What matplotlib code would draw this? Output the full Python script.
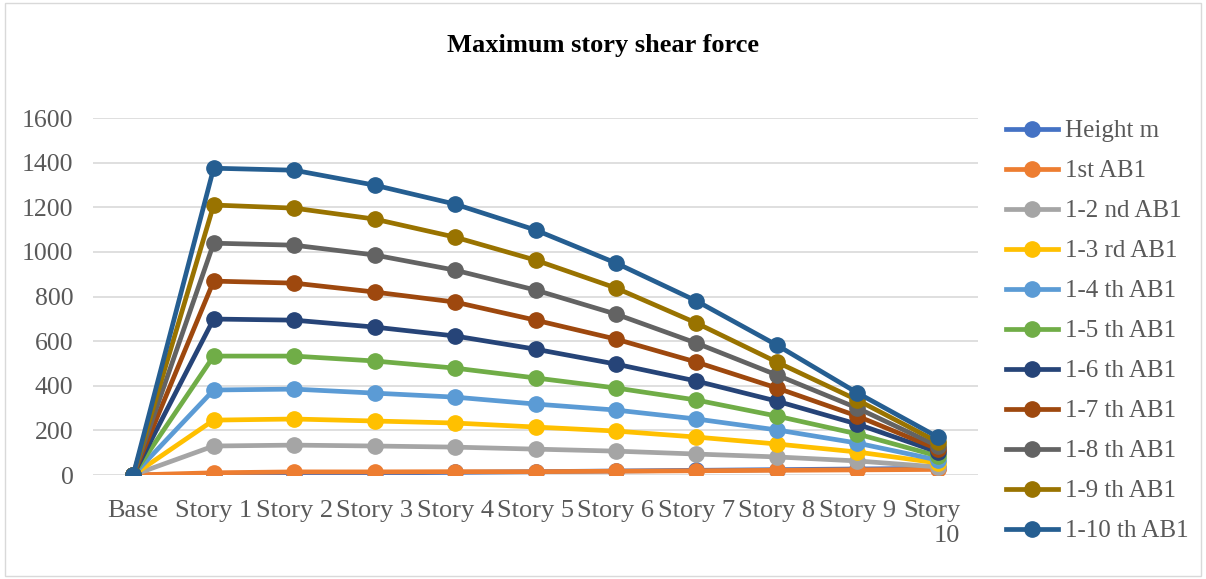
import matplotlib
matplotlib.use("Agg")
import matplotlib.pyplot as plt
from matplotlib.patches import Rectangle

plt.rcParams['font.family'] = ['Liberation Serif', 'DejaVu Serif']

stories = ['Base', 'Story 1', 'Story 2', 'Story 3', 'Story 4', 'Story 5',
           'Story 6', 'Story 7', 'Story 8', 'Story 9', 'Story\n10']

height_m = [0, 3, 6, 9, 12, 15, 18, 21, 24, 27, 30]
ab1_1st  = [0, 10, 14, 14, 15, 15, 17, 19, 21, 23, 25]
ab1_2    = [0, 130, 134, 130, 125, 116, 107, 94, 81, 63, 36]
ab1_3    = [0, 246, 251, 242, 233, 215, 197, 170, 139, 103, 54]
ab1_4    = [0, 381, 385, 367, 349, 318, 291, 251, 202, 143, 67]
ab1_5    = [0, 533, 533, 511, 479, 435, 390, 336, 264, 184, 85]
ab1_6    = [0, 699, 694, 663, 623, 564, 497, 421, 331, 228, 103]
ab1_7    = [0, 869, 860, 820, 775, 694, 609, 506, 390, 264, 116]
ab1_8    = [0, 1039, 1030, 986, 918, 829, 721, 591, 448, 300, 130]
ab1_9    = [0, 1210, 1196, 1147, 1066, 963, 838, 681, 506, 336, 148]
ab1_10   = [0, 1375, 1366, 1299, 1214, 1098, 950, 780, 582, 368, 170]

names = ['Height m', '1st AB1', '1-2 nd AB1', '1-3 rd AB1', '1-4 th AB1',
         '1-5 th AB1', '1-6 th AB1', '1-7 th AB1', '1-8 th AB1',
         '1-9 th AB1', '1-10 th AB1']
series = [height_m, ab1_1st, ab1_2, ab1_3, ab1_4, ab1_5, ab1_6, ab1_7,
          ab1_8, ab1_9, ab1_10]
colors = ['#4472C4', '#ED7D31', '#A5A5A5', '#FFC000', '#5B9BD5', '#70AD47',
          '#264478', '#9E480E', '#636363', '#997300', '#255E91']

fig = plt.figure(figsize=(12.06, 5.79), dpi=100)
ax = fig.add_axes([0.0771, 0.1796, 0.7339, 0.6166])

x = list(range(len(stories)))
for i, (nm, ys, c) in enumerate(zip(names, series, colors)):
    ax.plot(x, ys, color=c, lw=3.4, marker='o', ms=11, mec=c, mfc=c,
            label=nm, zorder=3 + i, solid_joinstyle='round')

ax.set_xlim(-0.5, 10.5)
ax.set_ylim(0, 1600)
ax.set_yticks(range(0, 1601, 200))
ax.set_xticks(x)
ax.set_xticklabels(stories)
ax.grid(axis='y', color='#d9d9d9', lw=1.2)
ax.set_axisbelow(True)
for s in ax.spines.values():
    s.set_visible(False)
ax.tick_params(length=0, labelsize=19, colors='#595959', pad=18)
ax.tick_params(axis='y', labelsize=18.5, pad=14)

# last label wraps onto two lines and sits a little left of its tick
lbl = ax.get_xticklabels()[-1]
lbl.set_x(lbl.get_position()[0])
from matplotlib.transforms import ScaledTranslation
lbl.set_transform(lbl.get_transform() + ScaledTranslation(-0.06, 0, fig.dpi_scale_trans))
lbl.set_multialignment('right')

fig.text(0.5, 0.922, 'Maximum story shear force', fontsize=19,
         fontweight='bold', color='black', ha='center', va='center')

leg = fig.legend(loc='upper left', bbox_to_anchor=(0.834, 0.793),
                 frameon=False, fontsize=18, labelcolor='#595959',
                 handlelength=2.1, labelspacing=0.70, handletextpad=0.25,
                 borderaxespad=0, borderpad=0)

fig.patches.append(Rectangle((0.004, 0.006), 0.992, 0.988,
                             transform=fig.transFigure, fill=False,
                             edgecolor='#d9d9d9', lw=1))

fig.savefig('out.png', dpi=100)
